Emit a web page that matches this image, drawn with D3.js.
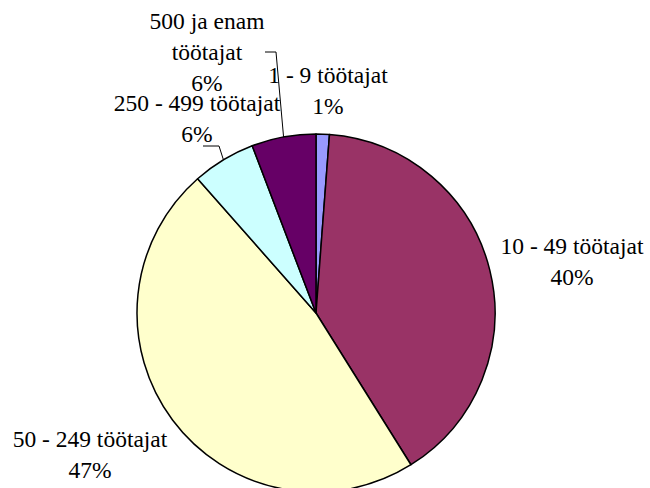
<!DOCTYPE html>
<html>
<head>
<meta charset="utf-8">
<script src="https://cdn.jsdelivr.net/npm/d3@7/dist/d3.min.js"></script>
<style>
  .lbl { position: absolute; white-space: nowrap; font-family: "Liberation Serif", "Times New Roman", Tinos; color: #000; line-height: 31px; text-align: center; transform: translateX(-50%); }
</style>
</head>
<body style="margin:0">
<div id="wrap" style="position:relative;width:650px;height:488px;overflow:hidden">
<svg id="chart" width="650" height="488" style="position:absolute;left:0;top:0"></svg>
</div>
<script>
// Data
const categories = ["1 - 9 töötajat", "10 - 49 töötajat", "50 - 249 töötajat", "250 - 499 töötajat", "500 ja enam töötajat"];
const values = [1.2, 39.9, 47.4, 5.7, 5.8];
const colors = ["#9999FF", "#993366", "#FFFFCC", "#CCFFFF", "#660066"];

// Layout
const cx = 316, cy = 313, R = 179;
const fontSize = 23.5;

// label layout: lines of text, center x, top y of the label block
const labelLayout = [
  { lines: ["1 - 9 töötajat"], x: 328, y: 60 },
  { lines: ["10 - 49 töötajat"], x: 572, y: 231 },
  { lines: ["50 - 249 töötajat"], x: 90, y: 424 },
  { lines: ["250 - 499 töötajat"], x: 197, y: 88 },
  { lines: ["500 ja enam", "töötajat"], x: 207, y: 6 }
];
// leader lines (polyline points) for small slices
const leaders = {
  3: [[203, 146], [219, 146]],
  4: [[265, 52], [276, 52]]
};

const svg = d3.select("#chart");
const pct = d3.format(".0%");
const total = d3.sum(values);

const pie = d3.pie().sort(null).value(d => d.v).startAngle(0).endAngle(2 * Math.PI);
const data = categories.map((c, i) => ({ c, v: values[i], i }));
const arcs = pie(data);
const arc = d3.arc().innerRadius(0).outerRadius(R);

const g = svg.append("g").attr("transform", `translate(${cx},${cy})`);
g.selectAll("path.slice")
  .data(arcs)
  .join("path")
  .attr("class", "slice")
  .attr("d", arc)
  .attr("fill", d => colors[d.data.i])
  .attr("stroke", "#000")
  .attr("stroke-width", 1.5)
  .attr("stroke-linejoin", "round");

// leader lines: horizontal segment then to the arc edge near slice mid-angle
Object.keys(leaders).forEach(k => {
  const a = arcs[+k];
  const mid = (a.startAngle + a.endAngle) / 2;
  const ex = cx + Math.sin(mid) * R;
  const ey = cy - Math.cos(mid) * R;
  const pts = leaders[k].concat([[ex, ey]]);
  svg.append("polyline")
    .attr("points", pts.map(p => p.join(",")).join(" "))
    .attr("fill", "none")
    .attr("stroke", "#000")
    .attr("stroke-width", 1);
});

// labels as HTML blocks over the SVG
const wrap = d3.select("#wrap");
arcs.forEach((a, i) => {
  const L = labelLayout[i];
  const lines = L.lines.concat([pct(a.data.v / total)]);
  const div = wrap.append("div")
    .attr("class", "lbl")
    .style("left", L.x + "px")
    .style("top", L.y + "px")
    .style("font-size", fontSize + "px");
  lines.forEach((s, j) => {
    div.append("div").text(s);
  });
});
</script>
</body>
</html>
